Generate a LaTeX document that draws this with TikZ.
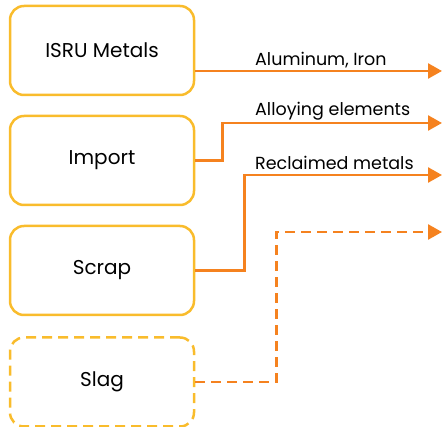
\documentclass[tikz,border=0pt]{standalone}
\usepackage{fontspec}
\setmainfont{Poppins}
\usetikzlibrary{arrows.meta}
\definecolor{boxgold}{HTML}{F9BC2C}
\definecolor{floworange}{HTML}{F5821F}
\tikzset{
  source/.style={draw=boxgold, line width=2.5pt, rounded corners=14pt,
    minimum width=184pt, minimum height=89pt, font=\fontsize{20}{24}\selectfont},
  flowline/.style={draw=floworange, line width=2.6pt, -{Triangle[length=14pt,width=15pt]}},
  flowlabel/.style={font=\fontsize{17.5}{21}\selectfont, anchor=base west, inner sep=0pt},
  maybe/.style={dash pattern=on 10pt off 6pt}
}
\begin{document}
\begin{tikzpicture}[x=1pt,y=-1pt]
  \useasboundingbox (0,0) rectangle (442,427);
  % sources
  \node[source] (isru) at (102,50.5) {ISRU Metals};
  \node[source] (import) at (102,160.5) {Import};
  \node[source] (scrap) at (102,270.5) {Scrap};
  \node[source, maybe] (slag) at (102,382) {Slag};
  % arrow ends
  \coordinate (out1) at (442,71);
  \coordinate (out2) at (442,123);
  \coordinate (out3) at (442,175);
  \coordinate (out4) at (442,232);
  % flows
  \draw[flowline] (isru.east |- out1) -- (out1);
  \draw[flowline] (import.east) -- ++(27,0) |- (out2);
  \draw[flowline] (scrap.east) -- ++(49,0) |- (out3);
  \draw[flowline, maybe] (slag.east) -- ++(81,0) |- (out4);
  % labels
  \node[flowlabel] (l1) at (255,66) {Aluminum, Iron};
  \node[flowlabel] (l2) at (255,116) {Alloying elements};
  \node[flowlabel] (l3) at (255,170) {Reclaimed metals};
\end{tikzpicture}
\end{document}
